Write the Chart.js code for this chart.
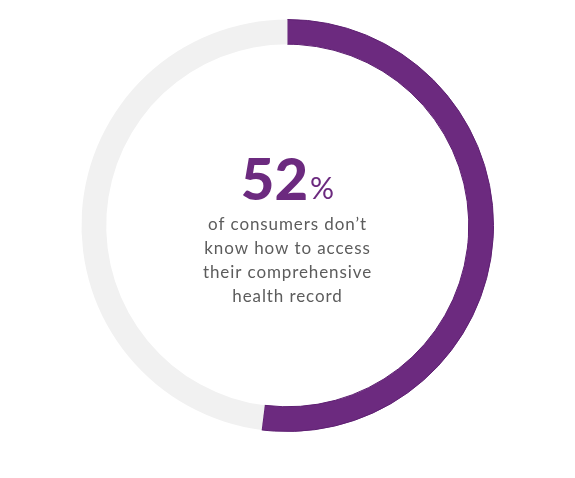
<!DOCTYPE html>
<html>
<head>
<meta charset="utf-8">
<script src="https://cdn.jsdelivr.net/npm/chart.js@4"></script>
<style>
  html, body { margin: 0; padding: 0; background: #fff; }
  #wrap { width: 575px; height: 478px; }
</style>
</head>
<body>
<div id="wrap"><canvas id="myChart" width="575" height="478"></canvas></div>
<script>
const labels = ['Don\'t know how to access', 'Know how to access'];
const values = [52, 48];
const bigNumber = '52';
const bigSuffix = '%';
const captionLines = ['of consumers don\u2019t', 'know how to access', 'their comprehensive', 'health record'];

const purple = '#6c2a7f';
const grey = '#f1f1f1';

// text in the hole
const centerText = {
  id: 'centerText',
  afterDraw(chart) {
    const ctx = chart.ctx;
    const meta = chart.getDatasetMeta(0).data[0];
    const cx = meta.x, cy = meta.y;
    ctx.save();
    ctx.textBaseline = 'alphabetic';

    ctx.font = '900 58px Lato';
    const w1 = ctx.measureText(bigNumber).width;
    ctx.font = '30px Lato';
    const w2 = ctx.measureText(bigSuffix).width;
    const x0 = cx - (w1 + w2 + 2) / 2;
    ctx.fillStyle = purple;
    ctx.textAlign = 'left';
    ctx.font = '900 58px Lato';
    ctx.fillText(bigNumber, x0, cy - 26);
    ctx.font = '30px Lato';
    ctx.fillText(bigSuffix, x0 + w1 + 2, cy - 27);

    ctx.font = '17px Lato';
    ctx.letterSpacing = '0.9px';
    ctx.fillStyle = '#5c5c5c';
    ctx.textAlign = 'center';
    captionLines.forEach((line, i) => {
      ctx.fillText(line, cx, cy + 4 + i * 24);
    });
    ctx.restore();
  }
};

const ctx = document.getElementById('myChart').getContext('2d');
new Chart(ctx, {
  type: 'doughnut',
  data: {
    labels: labels,
    datasets: [{
      data: values,
      backgroundColor: [purple, grey],
      borderColor: ['#5e1f72', grey],
      borderWidth: [1, 0]
    }]
  },
  options: {
    responsive: false,
    animation: false,
    cutout: '88%',
    layout: { padding: { top: 19, bottom: 46, left: 0, right: 0 } },
    plugins: {
      legend: { display: false },
      tooltip: { enabled: false }
    }
  },
  plugins: [centerText]
});
</script>
</body>
</html>
